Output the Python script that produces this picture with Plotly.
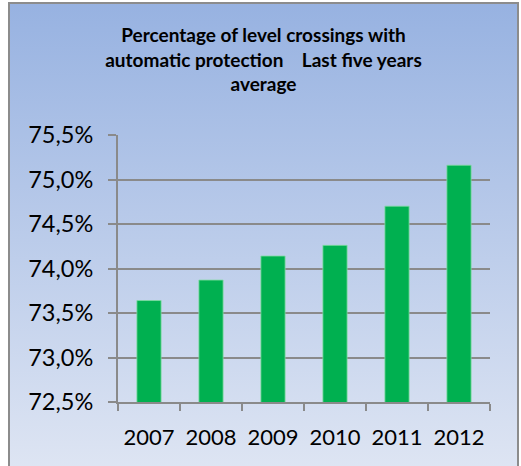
import base64
import plotly.graph_objects as go

years = ["2007", "2008", "2009", "2010", "2011", "2012"]
values = [73.64, 73.87, 74.14, 74.26, 74.70, 75.16]
y_ticks = [72.5, 73.0, 73.5, 74.0, 74.5, 75.0, 75.5]
y_tick_labels = ["72,5%", "73,0%", "73,5%", "74,0%", "74,5%", "75,0%", "75,5%"]

W, H = 521, 466
L, R, T, B = 118, 490, 135, 402
pw, ph = R - L, B - T

def px(x):
    return (x - L) / pw

def py(y):
    return (B - y) / ph

svg = ('<svg xmlns="http://www.w3.org/2000/svg" width="100" height="100" preserveAspectRatio="none">'
       '<defs><linearGradient id="g" x1="0" y1="0" x2="0" y2="1">'
       '<stop offset="0" stop-color="#97b2e1"/><stop offset="1" stop-color="#dee5f3"/>'
       '</linearGradient></defs><rect width="100" height="100" fill="url(#g)"/></svg>')
src = "data:image/svg+xml;base64," + base64.b64encode(svg.encode()).decode()

fig = go.Figure(go.Bar(
    x=years, y=values,
    marker=dict(color="#00b050", line=dict(color="#7fdca0", width=0.8)),
    hoverinfo="skip",
))

fig.update_layout(
    width=W, height=H,
    margin=dict(l=L, r=W - R, t=T, b=H - B),
    paper_bgcolor="white",
    plot_bgcolor="white",
    bargap=0.61,
    showlegend=False,
    font=dict(family="Lato, Open Sans, sans-serif", color="black"),
    title=dict(
        text="Percentage of level crossings with<br>automatic protection    Last five years<br>average",
        x=263.5 / W, xanchor="center",
        y=1 - 42 / H, yanchor="middle",
        font=dict(size=19, family="Lato, sans-serif", weight="bold", color="black"),
    ),
    images=[dict(
        source=src, xref="paper", yref="paper",
        x=px(9), y=py(3), sizex=px(518) - px(9), sizey=py(3) - py(470),
        xanchor="left", yanchor="top", sizing="stretch", layer="below",
    )],
    shapes=[dict(
        type="rect", xref="paper", yref="paper",
        x0=px(9), x1=px(518), y0=py(470), y1=py(3),
        line=dict(color="#8c8c8c", width=2), fillcolor="rgba(0,0,0,0)", layer="above",
    )],
)

fig.update_yaxes(
    range=[72.5, 75.5],
    tickmode="array", tickvals=y_ticks, ticktext=y_tick_labels,
    showgrid=True, gridcolor="#8a8a8a", gridwidth=1.5,
    showline=True, linecolor="#8a8a8a", linewidth=2,
    ticks="outside", ticklen=8, tickcolor="#8a8a8a", tickwidth=2,
    tickfont=dict(size=23.5, color="black"),
    ticklabelstandoff=10,
    zeroline=False,
)
fig.update_xaxes(
    showline=True, linecolor="#8a8a8a", linewidth=2,
    ticks="outside", tickson="boundaries", ticklen=7, tickcolor="#8a8a8a", tickwidth=2,
    tickfont=dict(size=22, color="black"),
    ticklabelstandoff=15,
    showgrid=False,
)

fig.write_html("out.html", config={"displayModeBar": False},
               post_script="document.body.style.margin='0';document.body.style.padding='0';")
